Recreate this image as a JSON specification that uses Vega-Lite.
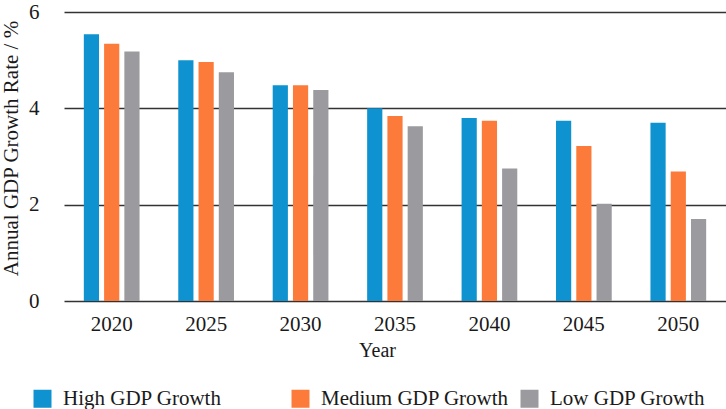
{
  "$schema": "https://vega.github.io/schema/vega-lite/v6.json",
  "width": 662,
  "height": 289,
  "autosize": {"type": "none"},
  "padding": {"left": 64, "top": 12, "right": 0, "bottom": 108},
  "config": {
    "font": "Liberation Serif",
    "view": {"stroke": null},
    "axis": {
      "labelFont": "Liberation Serif",
      "titleFont": "Liberation Serif",
      "labelColor": "#1a1a1a",
      "titleColor": "#1a1a1a",
      "titleFontWeight": "normal"
    },
    "legend": {"labelFont": "Liberation Serif", "labelColor": "#1a1a1a"}
  },
  "data": {
    "values": [
      {"year": "2020", "scenario": "High GDP Growth", "rate": 5.54},
      {"year": "2020", "scenario": "Medium GDP Growth", "rate": 5.34},
      {"year": "2020", "scenario": "Low GDP Growth", "rate": 5.18},
      {"year": "2025", "scenario": "High GDP Growth", "rate": 5.0},
      {"year": "2025", "scenario": "Medium GDP Growth", "rate": 4.96},
      {"year": "2025", "scenario": "Low GDP Growth", "rate": 4.75},
      {"year": "2030", "scenario": "High GDP Growth", "rate": 4.48},
      {"year": "2030", "scenario": "Medium GDP Growth", "rate": 4.48},
      {"year": "2030", "scenario": "Low GDP Growth", "rate": 4.38},
      {"year": "2035", "scenario": "High GDP Growth", "rate": 4.0},
      {"year": "2035", "scenario": "Medium GDP Growth", "rate": 3.84},
      {"year": "2035", "scenario": "Low GDP Growth", "rate": 3.63},
      {"year": "2040", "scenario": "High GDP Growth", "rate": 3.8},
      {"year": "2040", "scenario": "Medium GDP Growth", "rate": 3.74},
      {"year": "2040", "scenario": "Low GDP Growth", "rate": 2.75},
      {"year": "2045", "scenario": "High GDP Growth", "rate": 3.74},
      {"year": "2045", "scenario": "Medium GDP Growth", "rate": 3.22},
      {"year": "2045", "scenario": "Low GDP Growth", "rate": 2.02},
      {"year": "2050", "scenario": "High GDP Growth", "rate": 3.7},
      {"year": "2050", "scenario": "Medium GDP Growth", "rate": 2.69},
      {"year": "2050", "scenario": "Low GDP Growth", "rate": 1.7}
    ]
  },
  "mark": {"type": "bar"},
  "encoding": {
    "x": {
      "field": "year",
      "type": "nominal",
      "scale": {"paddingInner": 0.41, "paddingOuter": 0.21},
      "axis": {
        "title": "Year",
        "labelAngle": 0,
        "labelFontSize": 21,
        "labelPadding": 12,
        "labelBaseline": "top",
        "titleFontSize": 20,
        "titleBaseline": "alphabetic",
        "titleX": 313,
        "titleY": 55,
        "domain": false,
        "ticks": false,
        "tickSize": 0
      }
    },
    "xOffset": {
      "field": "scenario",
      "type": "nominal",
      "sort": ["High GDP Growth", "Medium GDP Growth", "Low GDP Growth"],
      "scale": {"paddingInner": 0.25, "paddingOuter": 0}
    },
    "y": {
      "field": "rate",
      "type": "quantitative",
      "scale": {"domain": [0, 6], "nice": false},
      "axis": {
        "title": "Annual GDP Growth Rate / %",
        "values": [0, 2, 4, 6],
        "labelFontSize": 21,
        "labelPadding": 25,
        "ticks": false,
        "tickSize": 0,
        "domain": false,
        "gridColor": "#333333",
        "gridWidth": 1.6,
        "gridOpacity": 1,
        "titleFontSize": 21,
        "titleAngle": -90,
        "titleAlign": "center",
        "titleBaseline": "alphabetic",
        "titleX": -47,
        "titleY": 136
      }
    },
    "color": {
      "field": "scenario",
      "type": "nominal",
      "sort": ["High GDP Growth", "Medium GDP Growth", "Low GDP Growth"],
      "scale": {"range": ["#0e93d0", "#fd7b3a", "#9b9b9f"]},
      "legend": {
        "title": null,
        "orient": "none",
        "direction": "horizontal",
        "columns": 3,
        "legendX": -32,
        "legendY": 376,
        "padding": 0,
        "symbolType": "square",
        "symbolSize": 324,
        "symbolStrokeWidth": 0,
        "symbolOpacity": 1,
        "labelFont": "Liberation Serif",
        "labelFontSize": 21,
        "labelOffset": 10,
        "columnPadding": 10,
        "labelLimit": 400,
        "labelExpr": "datum.label == 'High GDP Growth' ? datum.label + '           \u200b' : datum.label"
      }
    }
  }
}
